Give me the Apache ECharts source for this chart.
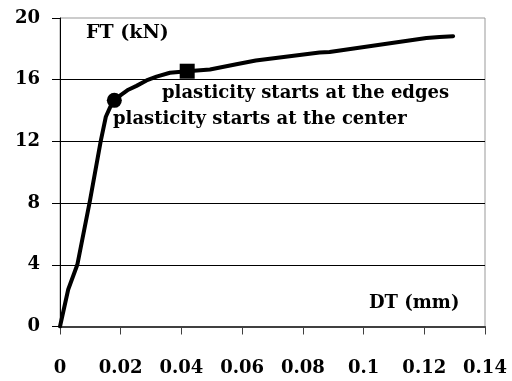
<!DOCTYPE html>
<html>
<head>
<meta charset="utf-8">
<script src="https://cdn.jsdelivr.net/npm/echarts@6/dist/echarts.min.js"></script>
<style>
  html, body { margin: 0; padding: 0; background: #fff; }
  #chart { width: 512px; height: 381px; }
</style>
</head>
<body>
<div id="chart"></div>
<script>
// Force-displacement curve: DT (mm) against FT (kN)
const dt = [0, 0.0027, 0.0057, 0.0099, 0.0134, 0.0151, 0.0166, 0.0179, 0.0200, 0.0225, 0.0252, 0.0285, 0.0318, 0.0362, 0.0419, 0.0494, 0.0581, 0.0645, 0.0855, 0.0888, 0.1207, 0.1250, 0.1295];
const ft = [0, 2.4, 4.0, 8.2, 12.0, 13.6, 14.25, 14.66, 15.0, 15.35, 15.6, 15.95, 16.2, 16.45, 16.55, 16.66, 17.0, 17.24, 17.76, 17.79, 18.7, 18.77, 18.82];

// Points where plasticity begins
const centerPoint = [0.0179, 14.66];
const edgesPoint = [0.0419, 16.55];

// Axis ranges and steps
const xRange = [0, 0.14, 0.02];
const yRange = [0, 20, 4];

const FONT = 'DejaVu Serif';

const chart = echarts.init(document.getElementById('chart'), null, { renderer: 'canvas' });

chart.setOption({
  animation: false,
  backgroundColor: '#ffffff',
  grid: {
    left: 60, right: 27, top: 18, bottom: 54.5,
    show: true, borderColor: '#999999', borderWidth: 1, backgroundColor: 'transparent'
  },
  xAxis: {
    type: 'value',
    min: xRange[0], max: xRange[1], interval: xRange[2],
    axisLine: { show: true, onZero: false, lineStyle: { color: '#404040', width: 2 } },
    axisTick: { show: true, inside: false, length: 8, lineStyle: { color: '#404040', width: 1 } },
    splitLine: { show: false },
    axisLabel: {
      margin: 33,
      color: '#000',
      fontFamily: FONT, fontWeight: 'bold', fontSize: 18,
      formatter: v => String(+v.toFixed(2))
    }
  },
  yAxis: {
    type: 'value',
    min: yRange[0], max: yRange[1], interval: yRange[2],
    axisLine: { show: true, lineStyle: { color: '#000', width: 1 } },
    axisTick: { show: true, inside: false, length: 8, lineStyle: { color: '#000', width: 1 } },
    splitLine: { show: true, showMaxLine: false, lineStyle: { color: '#000', width: 1 } },
    axisLabel: {
      margin: 20,
      color: '#000',
      fontFamily: FONT, fontWeight: 'bold', fontSize: 18
    }
  },
  series: [
    {
      type: 'line',
      data: dt.map((x, i) => [x, ft[i]]),
      showSymbol: false,
      smooth: false,
      lineStyle: { color: '#000', width: 4, cap: 'round', join: 'round' },
      z: 3
    },
    {
      type: 'scatter',
      data: [centerPoint],
      symbol: 'circle',
      symbolSize: 15,
      itemStyle: { color: '#000', opacity: 1 },
      z: 4
    },
    {
      type: 'scatter',
      data: [edgesPoint],
      symbol: 'rect',
      symbolSize: 15,
      itemStyle: { color: '#000', opacity: 1 },
      z: 4
    }
  ],
  graphic: [
    {
      type: 'text', left: 86, top: 24,
      style: { text: 'FT (kN)', font: 'bold 19px "' + FONT + '"', fill: '#000' }
    },
    {
      type: 'text', left: 162, top: 84,
      style: { text: 'plasticity starts at the edges', font: 'bold 18px "' + FONT + '"', fill: '#000' }
    },
    {
      type: 'text', left: 113, top: 110,
      style: { text: 'plasticity starts at the center', font: 'bold 18px "' + FONT + '"', fill: '#000' }
    },
    {
      type: 'text', left: 369, top: 294,
      style: { text: 'DT (mm)', font: 'bold 18px "' + FONT + '"', fill: '#000' }
    }
  ]
});
</script>
</body>
</html>
